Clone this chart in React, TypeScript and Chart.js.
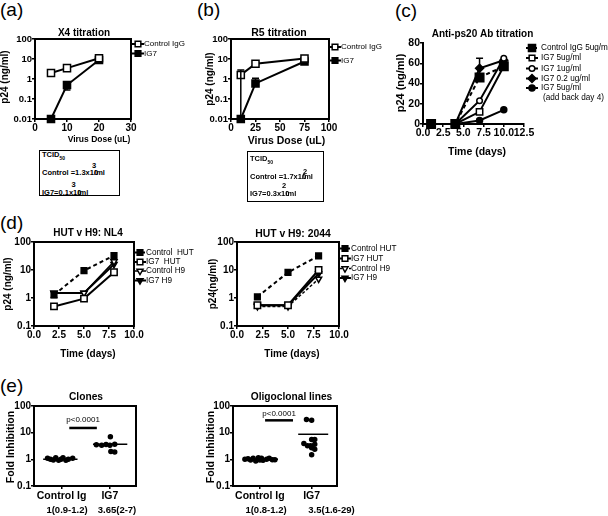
import React, { useEffect, useRef } from 'react';
import { Chart, registerables } from 'chart.js';

Chart.register(...registerables);

const FONT = '"Liberation Sans", Arial, Helvetica, sans-serif';
const K = '#000';

// ===== (a) X4 titration =====
const aLabels = ['Control IgG', 'IG7'];
const aDose = [5, 10, 20];
const aControl = [2, 3.5, 11];
const aIG7 = [0.01, 0.5, 9];
const aIG7Low = [null, 0.28, null];
const aXTicks = [0, 10, 20, 30];
const titrYTicks = [0.01, 0.1, 1, 10, 100];

// ===== (b) R5 titration =====
const bLabels = ['Control IgG', 'IG7'];
const bDose = [10, 25, 75];
const bControl = [1.6, 5.8, 10.5];
const bControlLow = [0.01, null, null];
const bControlHigh = [2.8, null, null];
const bIG7 = [0.01, 0.6, 7.5];
const bIG7High = [null, 1.1, null];
const bXTicks = [0, 25, 50, 75, 100];

// ===== (c) Anti-ps20 Ab titration =====
const cLabels = ['Control IgG 5ug/ml', 'IG7 5ug/ml', 'IG7 1ug/ml', 'IG7 0.2 ug/ml', 'IG7 5ug/ml'];
const cNote = '(add back day 4)';
const cDays = [1, 4, 7, 10];
const cControl = [0, 0, 46, 57];
const cControlHigh = [null, null, 65, null];
const cIG7_5 = [0, 0, 12, 57];
const cIG7_1 = [0, 0, 23, 65];
const cIG7_02 = [0, 0, 55, 63];
const cIG7_addBack = [0, 0, 3.5, 14];
const cXTicks = [0, 2.5, 5, 7.5, 10, 12.5];
const cYTicks = [0, 20, 40, 60, 80];

// ===== (d) HUT v H9 =====
const dDays = [2, 5, 8];
const dXTicks = [0, 2.5, 5, 7.5, 10];
const dYTicks = [0.1, 1, 10, 100];
const d1Labels = ['Control  HUT', 'IG7  HUT', 'Control H9', 'IG7 H9'];
const d1ControlHUT = [1.3, 9.5, 33];
const d1ControlHUTLow = [1.05, null, null];
const d1IG7HUT = [0.5, 0.95, 8.3];
const d1ControlH9 = [1.5, 1.5, 20];
const d1IG7H9 = [1.5, 1.5, 16];
const d2Labels = ['Control HUT', 'IG7 HUT', 'Control H9', 'IG7 H9'];
const d2ControlHUT = [1.1, 8.2, 32];
const d2IG7HUT = [0.55, 0.55, 10];
const d2ControlH9 = [0.5, 0.5, 4.8];
const d2IG7H9 = [0.55, 0.55, 7.4];

// ===== (e) fold inhibition =====
const eCategories = ['Control Ig', 'IG7'];
const eYTicks = [0.1, 1, 10, 100];
const pLabel = 'p<0.0001';
const e1Summary = ['1(0.9-1.2)', '3.65(2-7)'];
const e1CtrlJitter = [-0.29, -0.23, -0.17, -0.12, -0.06, -0.01, 0.03, 0.09, 0.14, 0.23];
const e1CtrlFold = [1.1, 1.0, 0.95, 1.15, 0.93, 1.0, 1.15, 0.92, 1.0, 1.1];
const e1IG7Jitter = [-0.28, -0.17, -0.08, 0.0, 0.1, 0.01, 0.02, 0.1];
const e1IG7Fold = [3.5, 3.4, 3.6, 3.4, 3.7, 7.0, 1.95, 1.9];
const e1Median = [1, 3.65];
const e1PBar = 15;
const e2Summary = ['1(0.8-1.2)', '3.5(1.6-29)'];
const e2CtrlJitter = [-0.29, -0.23, -0.18, -0.13, -0.08, -0.03, 0, 0.03, 0.06, 0.13, 0.18, 0.24, 0.29];
const e2CtrlFold = [1, 1.06, 0.94, 1.09, 0.87, 1.15, 0.94, 1.09, 0.92, 1.0, 1.09, 0.97, 0.97];
const e2IG7Jitter = [-0.1, 0, -0.15, -0.08, 0, 0.06, 0, 0.06, 0.06, 0, -0.02];
const e2IG7Fold = [31, 29, 3.9, 3.2, 5.6, 5.6, 2.7, 3.7, 2.4, 1.5, 3.2];
const e2Median = [1, 8.7];
const e2PBar = 29;

// ---------- helpers ----------
type Sty = { style: string; r: number; fill: boolean; dash?: number[]; w?: number; rot?: number };

function series(label: string, xs: number[], ys: number[], s: Sty, extra: any = {}) {
  return {
    label,
    data: xs.map((x, i) => ({ x, y: ys[i] })),
    borderColor: K,
    backgroundColor: s.fill ? K : '#fff',
    borderWidth: s.w ?? 2,
    borderDash: s.dash ?? [],
    pointStyle: s.style,
    pointRadius: s.r,
    pointBorderWidth: 1.5,
    pointBackgroundColor: s.fill ? K : '#fff',
    pointBorderColor: K,
    pointRotation: s.rot ?? 0,
    showLine: true,
    tension: 0,
    clip: false,
    sty: s,
    ...extra,
  };
}

function seg(x0: number, x1: number, y: number, w: number) {
  return {
    label: '',
    data: [{ x: x0, y }, { x: x1, y }],
    borderColor: K,
    borderWidth: w,
    pointRadius: 0,
    showLine: true,
    clip: false,
  };
}

function drawSym(ctx: CanvasRenderingContext2D, s: Sty, x: number, y: number, r: number) {
  ctx.save();
  ctx.translate(x, y);
  ctx.rotate(((s.rot ?? 0) * Math.PI) / 180);
  ctx.beginPath();
  if (s.style === 'rect') {
    const h = r * Math.SQRT1_2;
    ctx.rect(-h, -h, 2 * h, 2 * h);
  } else if (s.style === 'rectRot') {
    ctx.moveTo(-r, 0); ctx.lineTo(0, -r); ctx.lineTo(r, 0); ctx.lineTo(0, r); ctx.closePath();
  } else if (s.style === 'triangle') {
    for (let k = 0; k < 3; k++) {
      const a = (k * 2 * Math.PI) / 3;
      const px = Math.sin(a) * r, py = -Math.cos(a) * r;
      if (k === 0) ctx.moveTo(px, py); else ctx.lineTo(px, py);
    }
    ctx.closePath();
  } else {
    ctx.arc(0, 0, r, 0, Math.PI * 2);
  }
  ctx.fillStyle = s.fill ? K : '#fff';
  ctx.fill();
  ctx.lineWidth = 1.5;
  ctx.strokeStyle = K;
  ctx.stroke();
  ctx.restore();
}

type Rect = { l: number; t: number; w: number; h: number };
type Plot = { l: number; t: number; r: number; b: number };
type TextItem = { t: string; x: number; y: number; size: number; bold?: boolean; rot?: boolean; align?: CanvasTextAlign };
type DataText = { t: string; xv: number; yv: number; dy: number; size: number };
type LegendItem = { ds: number; x: number; y: number; tx: number; size: number; r?: number };
type AxisDef = { type: 'linear' | 'logarithmic'; min: number; max: number; ticks: number[]; fmt: (v: number) => string; size: number; pad: number; tick: number };

type PanelDef = {
  id: string;
  canvas: Rect;
  plot: Plot;
  box: boolean;
  x: AxisDef;
  y: AxisDef;
  datasets: any[];
  texts: TextItem[];
  dataTexts?: DataText[];
  legend?: LegendItem[];
};

function makeAxis(a: AxisDef, fix: (s: any) => void) {
  return {
    type: a.type,
    min: a.min,
    max: a.max,
    afterBuildTicks: (s: any) => {
      s.ticks = a.ticks.map((v) => ({ value: v }));
    },
    afterFit: fix,
    ticks: {
      color: K,
      font: { family: FONT, size: a.size, weight: 'bold' },
      padding: a.pad,
      autoSkip: false,
      maxRotation: 0,
      minRotation: 0,
      callback: (v: any) => a.fmt(Number(v)),
    },
    grid: { display: true, drawOnChartArea: false, drawTicks: true, tickLength: a.tick, color: K, lineWidth: 1.5 },
    border: { display: true, color: K, width: 2 },
  };
}

function decoPlugin(p: PanelDef) {
  return {
    id: 'deco_' + p.id,
    afterDatasetsDraw(chart: any) {
      const ctx: CanvasRenderingContext2D = chart.ctx;
      const sx = chart.scales.x, sy = chart.scales.y;
      const ox = p.canvas.l, oy = p.canvas.t;
      ctx.save();
      ctx.strokeStyle = K;
      ctx.fillStyle = K;
      ctx.setLineDash([]);
      ctx.lineWidth = 1.5;
      chart.data.datasets.forEach((ds: any) => {
        ['errHi', 'errLo'].forEach((k) => {
          const arr = ds[k];
          if (!arr) return;
          arr.forEach((v: number | null, i: number) => {
            if (v == null) return;
            const px = sx.getPixelForValue(ds.data[i].x);
            const y0 = sy.getPixelForValue(ds.data[i].y);
            const y1 = sy.getPixelForValue(v);
            ctx.beginPath();
            ctx.moveTo(px, y0); ctx.lineTo(px, y1);
            ctx.moveTo(px - 3.5, y1); ctx.lineTo(px + 3.5, y1);
            ctx.stroke();
          });
        });
      });
      if (p.box) {
        const a = chart.chartArea;
        ctx.lineWidth = 2;
        ctx.strokeRect(a.left, a.top, a.right - a.left, a.bottom - a.top);
      }
      p.texts.forEach((t) => {
        ctx.save();
        ctx.font = `${t.bold === false ? '' : 'bold '}${t.size}px ${FONT}`;
        ctx.textAlign = t.align || 'center';
        ctx.textBaseline = 'middle';
        ctx.fillStyle = K;
        ctx.translate(t.x - ox, t.y - oy);
        if (t.rot) ctx.rotate(-Math.PI / 2);
        ctx.fillText(t.t, 0, 0);
        ctx.restore();
      });
      (p.dataTexts || []).forEach((t) => {
        ctx.save();
        ctx.font = `${t.size}px ${FONT}`;
        ctx.textAlign = 'center';
        ctx.textBaseline = 'middle';
        ctx.fillStyle = K;
        ctx.fillText(t.t, sx.getPixelForValue(t.xv), sy.getPixelForValue(t.yv) + t.dy);
        ctx.restore();
      });
      (p.legend || []).forEach((l) => {
        const ds = chart.data.datasets[l.ds];
        const s: Sty = ds.sty;
        const x = l.x - ox, y = l.y - oy;
        ctx.save();
        ctx.lineWidth = ds.borderWidth;
        ctx.setLineDash(ds.borderDash || []);
        ctx.beginPath();
        ctx.moveTo(x - 6, y); ctx.lineTo(x + 6, y);
        ctx.stroke();
        ctx.setLineDash([]);
        drawSym(ctx, s, x, y, l.r ?? Math.min(s.r, 4));
        ctx.font = `${l.size}px ${FONT}`;
        ctx.textAlign = 'left';
        ctx.textBaseline = 'middle';
        ctx.fillStyle = K;
        ctx.fillText(ds.label, l.tx - ox, y);
        ctx.restore();
      });
      ctx.restore();
    },
  };
}

function buildConfig(p: PanelDef): any {
  const c = p.canvas, pl = p.plot;
  return {
    type: 'line',
    data: { datasets: p.datasets },
    options: {
      responsive: false,
      animation: false,
      events: [],
      layout: { padding: { left: 0, top: pl.t - c.t, right: c.l + c.w - pl.r, bottom: 0 } },
      plugins: { legend: { display: false }, tooltip: { enabled: false }, title: { display: false } },
      scales: {
        x: makeAxis(p.x, (s: any) => { s.height = c.t + c.h - pl.b; }),
        y: makeAxis(p.y, (s: any) => { s.width = pl.l - c.l; }),
      },
    },
    plugins: [decoPlugin(p)],
  };
}

const str = (v: number) => String(v);
const fix1 = (v: number) => v.toFixed(1);

// ---------- panel definitions ----------
const panels: PanelDef[] = [
  {
    id: 'a',
    canvas: { l: 0, t: 25, w: 205, h: 121 },
    plot: { l: 35, t: 39, r: 131, b: 119 },
    box: true,
    x: { type: 'linear', min: 0, max: 30, ticks: aXTicks, fmt: str, size: 10, pad: 0, tick: 3 },
    y: { type: 'logarithmic', min: 0.01, max: 100, ticks: titrYTicks, fmt: str, size: 9.5, pad: 0, tick: 3 },
    datasets: [
      series(aLabels[0], aDose, aControl, { style: 'rect', r: 5, fill: false }),
      series(aLabels[1], aDose, aIG7, { style: 'rect', r: 5, fill: true }, { errLo: aIG7Low }),
    ],
    texts: [
      { t: 'X4 titration', x: 84, y: 33, size: 10 },
      { t: 'Virus Dose (uL)', x: 99, y: 139.5, size: 8.5 },
      { t: 'p24 (ng/ml)', x: 5, y: 77, size: 10, rot: true },
    ],
    legend: [
      { ds: 0, x: 138, y: 44, tx: 144, size: 8 },
      { ds: 1, x: 138, y: 53.5, tx: 144, size: 8 },
    ],
  },
  {
    id: 'b',
    canvas: { l: 205, t: 25, w: 195, h: 127 },
    plot: { l: 231, t: 39, r: 329, b: 119 },
    box: true,
    x: { type: 'linear', min: 0, max: 100, ticks: bXTicks, fmt: str, size: 10, pad: 0, tick: 3 },
    y: { type: 'logarithmic', min: 0.01, max: 100, ticks: titrYTicks, fmt: str, size: 9.5, pad: 0, tick: 3 },
    datasets: [
      series(bLabels[0], bDose, bControl, { style: 'rect', r: 5, fill: false }, { errLo: bControlLow, errHi: bControlHigh }),
      series(bLabels[1], bDose, bIG7, { style: 'rect', r: 5, fill: true }, { errHi: bIG7High }),
    ],
    texts: [
      { t: 'R5 titration', x: 279, y: 33.5, size: 10.5 },
      { t: 'Virus Dose (uL)', x: 286.5, y: 141.5, size: 10.5 },
      { t: 'p24 (ng/ml)', x: 210, y: 79, size: 10, rot: true },
    ],
    legend: [
      { ds: 0, x: 335, y: 47, tx: 341, size: 8 },
      { ds: 1, x: 335, y: 60.5, tx: 341, size: 8 },
    ],
  },
  {
    id: 'c',
    canvas: { l: 395, t: 28, w: 213, h: 140 },
    plot: { l: 423, t: 43, r: 524, b: 124 },
    box: false,
    x: { type: 'linear', min: 0, max: 12.5, ticks: cXTicks, fmt: fix1, size: 10.5, pad: 0, tick: 3 },
    y: { type: 'linear', min: 0, max: 80, ticks: cYTicks, fmt: str, size: 10.5, pad: 0, tick: 3 },
    datasets: [
      series(cLabels[0], cDays, cControl, { style: 'rect', r: 6, fill: true, dash: [4, 3] }, { errHi: cControlHigh }),
      series(cLabels[1], cDays, cIG7_5, { style: 'rect', r: 4.5, fill: false }),
      series(cLabels[2], cDays, cIG7_1, { style: 'circle', r: 2.8, fill: false }),
      series(cLabels[3], cDays, cIG7_02, { style: 'rectRot', r: 4, fill: true }),
      series(cLabels[4], cDays, cIG7_addBack, { style: 'circle', r: 3, fill: true }),
    ],
    texts: [
      { t: 'Anti-ps20 Ab titration', x: 482.5, y: 34.5, size: 10 },
      { t: 'Time (days)', x: 477, y: 152, size: 10.5 },
      { t: 'p24 (ng/ml)', x: 401, y: 83, size: 11, rot: true },
      { t: cNote, x: 543, y: 98, size: 8.2, bold: false, align: 'left' },
    ],
    legend: [
      { ds: 0, x: 532, y: 48, tx: 541, size: 8.2, r: 5 },
      { ds: 1, x: 532, y: 58, tx: 541, size: 8.2 },
      { ds: 2, x: 532, y: 68.5, tx: 541, size: 8.2 },
      { ds: 3, x: 532, y: 78.5, tx: 541, size: 8.2 },
      { ds: 4, x: 532, y: 88, tx: 541, size: 8.2 },
    ],
  },
  {
    id: 'd1',
    canvas: { l: 0, t: 226, w: 205, h: 136 },
    plot: { l: 34, t: 242, r: 134, b: 326 },
    box: true,
    x: { type: 'linear', min: 0, max: 10, ticks: dXTicks, fmt: fix1, size: 10, pad: 0, tick: 3 },
    y: { type: 'logarithmic', min: 0.1, max: 100, ticks: dYTicks, fmt: str, size: 10, pad: 0, tick: 3 },
    datasets: [
      series(d1Labels[0], dDays, d1ControlHUT, { style: 'rect', r: 4, fill: true, dash: [4, 3] }, { errLo: d1ControlHUTLow }),
      series(d1Labels[1], dDays, d1IG7HUT, { style: 'rect', r: 4.5, fill: false }),
      series(d1Labels[2], dDays, d1ControlH9, { style: 'triangle', r: 3.5, fill: false, rot: 180, w: 1.5 }),
      series(d1Labels[3], dDays, d1IG7H9, { style: 'triangle', r: 3.5, fill: true, rot: 180 }),
    ],
    texts: [
      { t: 'HUT v H9: NL4', x: 88, y: 233.5, size: 10 },
      { t: 'Time (days)', x: 88, y: 354, size: 10 },
      { t: 'p24 (ng/ml)', x: 8, y: 284, size: 10, rot: true },
    ],
    legend: [
      { ds: 0, x: 140, y: 252.5, tx: 146, size: 8.2 },
      { ds: 1, x: 140, y: 262, tx: 146, size: 8.2 },
      { ds: 2, x: 140, y: 271, tx: 146, size: 8.2 },
      { ds: 3, x: 140, y: 280.5, tx: 146, size: 8.2 },
    ],
  },
  {
    id: 'd2',
    canvas: { l: 205, t: 226, w: 245, h: 136 },
    plot: { l: 237, t: 242, r: 339, b: 326 },
    box: true,
    x: { type: 'linear', min: 0, max: 10, ticks: dXTicks, fmt: fix1, size: 10, pad: 0, tick: 3 },
    y: { type: 'logarithmic', min: 0.1, max: 100, ticks: dYTicks, fmt: str, size: 10, pad: 0, tick: 3 },
    datasets: [
      series(d2Labels[0], dDays, d2ControlHUT, { style: 'rect', r: 4, fill: true, dash: [4, 3] }),
      series(d2Labels[1], dDays, d2IG7HUT, { style: 'rect', r: 4.5, fill: false }),
      series(d2Labels[2], dDays, d2ControlH9, { style: 'triangle', r: 3.5, fill: false, rot: 180, w: 1.5, dash: [3, 2] }),
      series(d2Labels[3], dDays, d2IG7H9, { style: 'triangle', r: 3.5, fill: true, rot: 180 }),
    ],
    texts: [
      { t: 'HUT v H9: 2044', x: 293, y: 234, size: 10.4 },
      { t: 'Time (days)', x: 292, y: 354, size: 10 },
      { t: 'p24(ng/ml)', x: 213, y: 284, size: 10, rot: true },
    ],
    legend: [
      { ds: 0, x: 345, y: 248.5, tx: 351, size: 8.2 },
      { ds: 1, x: 345, y: 258.5, tx: 351, size: 8.2 },
      { ds: 2, x: 345, y: 268.5, tx: 351, size: 8.2 },
      { ds: 3, x: 345, y: 278, tx: 351, size: 8.2 },
    ],
  },
  {
    id: 'e1',
    canvas: { l: 0, t: 390, w: 200, h: 126 },
    plot: { l: 34, t: 406, r: 136, b: 486 },
    box: true,
    x: { type: 'linear', min: -0.57, max: 1.54, ticks: [0, 1], fmt: (v) => eCategories[v], size: 10.5, pad: 1, tick: 3 },
    y: { type: 'logarithmic', min: 0.1, max: 100, ticks: eYTicks, fmt: str, size: 10, pad: 0, tick: 3 },
    datasets: [
      series(eCategories[0], e1CtrlJitter.map((j) => 0 + j), e1CtrlFold, { style: 'circle', r: 2, fill: true }, { showLine: false }),
      series(eCategories[1], e1IG7Jitter.map((j) => 1 + j), e1IG7Fold, { style: 'circle', r: 2, fill: true }, { showLine: false }),
      seg(-0.38, 0.33, e1Median[0], 1.5),
      seg(1 - 0.35, 1 + 0.36, e1Median[1], 1.5),
      seg(0.16, 0.73, e1PBar, 2.5),
    ],
    texts: [
      { t: 'Clones', x: 86, y: 397, size: 10.2 },
      { t: 'Fold Inhibition', x: 11, y: 447, size: 10.5, rot: true },
      { t: e1Summary[0], x: 67, y: 510, size: 9.5 },
      { t: e1Summary[1], x: 117, y: 510, size: 9.5 },
    ],
    dataTexts: [{ t: pLabel, xv: 0.445, yv: e1PBar, dy: -8, size: 8 }],
  },
  {
    id: 'e2',
    canvas: { l: 200, t: 390, w: 160, h: 126 },
    plot: { l: 233, t: 406, r: 337, b: 486 },
    box: true,
    x: { type: 'linear', min: -0.52, max: 1.49, ticks: [0, 1], fmt: (v) => eCategories[v], size: 10.5, pad: 1, tick: 3 },
    y: { type: 'logarithmic', min: 0.1, max: 100, ticks: eYTicks, fmt: str, size: 10, pad: 0, tick: 3 },
    datasets: [
      series(eCategories[0], e2CtrlJitter.map((j) => 0 + j), e2CtrlFold, { style: 'circle', r: 2, fill: true }, { showLine: false }),
      series(eCategories[1], e2IG7Jitter.map((j) => 1 + j), e2IG7Fold, { style: 'circle', r: 2, fill: true }, { showLine: false }),
      seg(-0.32, 0.35, e2Median[0], 1.5),
      seg(1 - 0.26, 1 + 0.32, e2Median[1], 1.5),
      seg(0.1, 0.64, e2PBar, 2.5),
    ],
    texts: [
      { t: 'Oligoclonal lines', x: 291.5, y: 397, size: 10.2 },
      { t: 'Fold Inhibition', x: 211, y: 447, size: 10.5, rot: true },
      { t: e2Summary[0], x: 266, y: 510, size: 9.5 },
      { t: e2Summary[1], x: 331.5, y: 510, size: 9.5 },
    ],
    dataTexts: [{ t: pLabel, xv: 0.37, yv: e2PBar, dy: -7, size: 8 }],
  },
];

function ChartPanel({ p }: { p: PanelDef }) {
  const ref = useRef<HTMLCanvasElement>(null);
  useEffect(() => {
    const chart = new Chart(ref.current as HTMLCanvasElement, buildConfig(p));
    return () => chart.destroy();
  }, [p]);
  return (
    <canvas
      ref={ref}
      width={p.canvas.w}
      height={p.canvas.h}
      style={{ position: 'absolute', left: p.canvas.l, top: p.canvas.t, width: p.canvas.w, height: p.canvas.h }}
    />
  );
}

function T({ x, y, size, bold = true, children, center = false }: any) {
  return (
    <div
      style={{
        position: 'absolute',
        left: x,
        top: y,
        transform: center ? 'translate(-50%, -50%)' : 'translateY(-50%)',
        fontFamily: FONT,
        fontSize: size,
        fontWeight: bold ? 'bold' : 'normal',
        lineHeight: 1,
        whiteSpace: 'nowrap',
        color: K,
      }}
    >
      {children}
    </div>
  );
}

function TcidBox({ box, lines }: any) {
  return (
    <>
      <div
        style={{
          position: 'absolute',
          left: box.l,
          top: box.t,
          width: box.w,
          height: box.h,
          border: '1.5px solid #000',
          boxSizing: 'border-box',
        }}
      />
      {lines}
    </>
  );
}

export default function App() {
  const letter = (t: string, x: number, y: number) => (
    <div style={{ position: 'absolute', left: x, top: y, fontFamily: FONT, fontSize: 19, lineHeight: 1, color: K }}>{t}</div>
  );
  return (
    <div style={{ position: 'absolute', left: 0, top: 0, width: 608, height: 516, background: '#fff', overflow: 'hidden' }}>
      {letter('(a)', 0, 0)}
      {letter('(b)', 197, 0)}
      {letter('(c)', 395, 1)}
      {letter('(d)', 0, 213)}
      {letter('(e)', 0, 376)}
      {panels.map((p) => (
        <ChartPanel key={p.id} p={p} />
      ))}
      <TcidBox
        box={{ l: 39, t: 150, w: 81, h: 46 }}
        lines={
          <>
            <T x={42} y={155.5} size={7.5}>TCID<sub style={{ fontSize: 5 }}>50</sub></T>
            <T x={92} y={166} size={7.5}>3</T>
            <T x={42} y={172.5} size={7.5}>Control =1.3x10<span style={{ marginLeft: -4 }}>/ml</span></T>
            <T x={71.5} y={185} size={7.5}>3</T>
            <T x={42} y={192.5} size={7.5}>IG7=0.1x10<span style={{ marginLeft: -4 }}>/ml</span></T>
          </>
        }
      />
      <TcidBox
        box={{ l: 247, t: 151, w: 77, h: 51 }}
        lines={
          <>
            <T x={250} y={160} size={7.5}>TCID<sub style={{ fontSize: 5 }}>50</sub></T>
            <T x={303} y={171.5} size={7.5}>2</T>
            <T x={250} y={177} size={7.5}>Control =1.7x10<span style={{ marginLeft: -4 }}>/ml</span></T>
            <T x={282} y={185.5} size={7.5}>2</T>
            <T x={250} y={193.5} size={7.5}>IG7=0.3x10<span style={{ marginLeft: -4 }}>/ml</span></T>
          </>
        }
      />
    </div>
  );
}
